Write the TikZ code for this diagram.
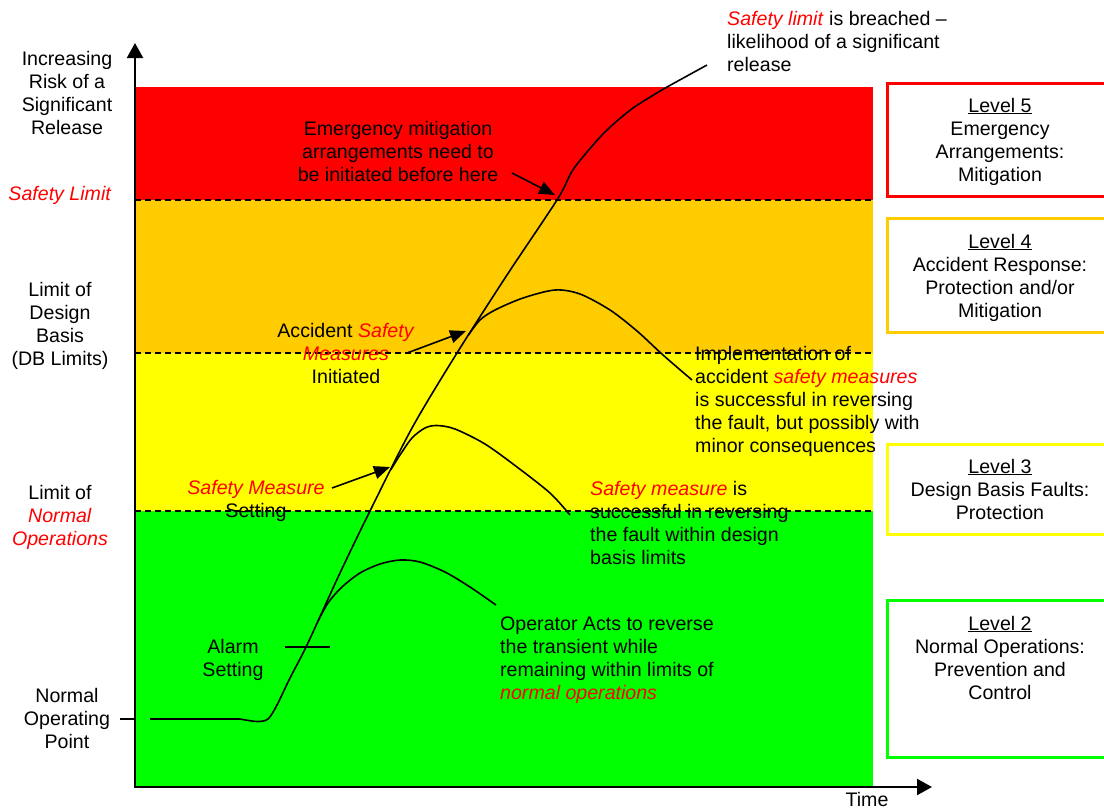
\documentclass[tikz,border=0pt]{standalone}
\usepackage{fontspec}
\setmainfont{Liberation Sans}
\usetikzlibrary{arrows.meta}
\definecolor{bandred}{HTML}{FF0000}
\definecolor{bandorange}{HTML}{FFCC00}
\definecolor{bandyellow}{HTML}{FFFF00}
\definecolor{bandgreen}{HTML}{00FF00}
\newcommand{\fsz}{\fontsize{19.6}{23}\selectfont}
\newcommand{\rd}[1]{\textcolor{bandred}{\textit{#1}}}
\begin{document}
\begin{tikzpicture}[x=1pt,y=-1pt,
  txt/.style={font=\fsz, inner sep=0pt, align=center, yshift=-2.5pt},
  ltxt/.style={font=\fsz, inner sep=0pt, align=left, anchor=west, yshift=-2.5pt},
  limitline/.style={dash pattern=on 6pt off 4pt, line width=1.3pt},
  curve/.style={line width=1.6pt, line join=round},
  pointer/.style={line width=1.6pt, -{Triangle[length=16pt,width=13pt]}},
  axis/.style={line width=2.2pt},
  levelbox/.style={line width=3pt, fill=white}]
\useasboundingbox (0,0) rectangle (1104,811);
% bands
\fill[bandred] (135,87) rectangle (873,200);
\fill[bandorange] (135,200) rectangle (873,353);
\fill[bandyellow] (135,353) rectangle (873,511);
\fill[bandgreen] (135,511) rectangle (873,787);
% limit lines
\draw[limitline] (135,200) -- (873,200);
\draw[limitline] (135,353) -- (873,353);
\draw[limitline] (135,511) -- (873,511);
% axes
\coordinate (O) at (135,787);
\coordinate (ytop) at (135,43);
\coordinate (xend) at (932,787);
\draw[axis, {Triangle[length=15pt,width=16pt]}-{Triangle[length=15pt,width=16pt]}] (ytop) -- (O) -- (xend);
% main transient
\draw[curve] (150,719) -- (240,719)
  plot[smooth, tension=0.5] coordinates {(240,719) (257,721.5) (268,719) (277,705) (290,678) (307,645) (340,573) (370,511) (412,428) (457,353) (507,275) (557,200) (571,173) (582,158) (605,132) (633,108) (667,87)}
  -- (707,65);
% branches
\draw[curve] plot[smooth, tension=0.5] coordinates {(317.5,622) (328,603) (342,587) (360,573) (380,564) (400,560) (420,562) (445,572) (470,587) (496,605)};
\draw[curve] plot[smooth, tension=0.5] coordinates {(390.7,470) (400,455) (412,438) (425,428) (437,425.5) (455,429) (485,444) (517,467) (550,493) (570,515)};
\draw[curve] plot[smooth, tension=0.5] coordinates {(468.5,335) (480,320) (495,310) (523,298) (555,290) (580,294) (610,310) (637,331) (663,355) (692,380)};
% alarm tick
\coordinate (alarmL) at (285,647);
\coordinate (alarmR) at (330,647);
\draw[line width=1.6pt] (alarmL) -- (alarmR);
% normal operating point tick
\coordinate (nopL) at (120,719);
\draw[line width=2.2pt] (nopL) -- (O |- nopL);
% pointers
\coordinate (emS) at (512,173); \coordinate (emT) at (555,195);
\coordinate (acS) at (407,353); \coordinate (acT) at (466,331);
\coordinate (smS) at (332,488); \coordinate (smT) at (390,467);
\draw[pointer] (emS) -- (emT);
\draw[pointer] (acS) -- (acT);
\draw[pointer] (smS) -- (smT);
% left labels
\node[txt] (risk) at (67,92.5) {\strut Increasing\\Risk of a\\Significant\\Release\strut};
\node[txt] (slimit) at (60,193) {\strut\rd{Safety Limit}};
\node[txt] (dblim) at (60,323.5) {\strut Limit of\\Design\\Basis\\(DB Limits)\strut};
\node[txt] (nolim) at (60,515.5) {\strut Limit of\\\rd{Normal}\\\rd{Operations}\strut};
\node[txt] (nop) at (67,718.5) {\strut Normal\\Operating\\Point\strut};
% annotations
\node[txt] (emerg) at (398,151) {\strut Emergency mitigation\\arrangements need to\\be initiated before here\strut};
\node[ltxt] (breach) at (727,41) {\strut\rd{Safety limit} is breached --\\likelihood of a significant\\release\strut};
\node[txt] (accid) at (346,353) {\strut Accident \rd{Safety}\\\rd{Measures}\\Initiated\strut};
\node[txt] (smset) at (256,499) {\strut\rd{Safety Measure}\\Setting\strut};
\node[txt] (alarm) at (233,657.5) {\strut Alarm\\Setting\strut};
\node[ltxt] (impl) at (695,399) {\strut Implementation of\\accident \rd{safety measures}\\is successful in reversing\\the fault, but possibly with\\minor consequences\strut};
\node[ltxt] (smsucc) at (590,522.5) {\strut\rd{Safety measure} is\\successful in reversing\\the fault within design\\basis limits\strut};
\node[ltxt] (oper) at (500,657.5) {\strut Operator Acts to reverse\\the transient while\\remaining within limits of\\\rd{normal operations}\strut};
\node[txt] (time) at (867,797) {Time};
% level boxes
\draw[levelbox, draw=bandred] (887,83) rectangle (1114,196);
\draw[levelbox, draw=bandorange] (887,218) rectangle (1114,332);
\draw[levelbox, draw=bandyellow] (887,444) rectangle (1114,534);
\draw[levelbox, draw=bandgreen] (887,600) rectangle (1114,757);
\node[txt] (lv5) at (1000,139.5) {\strut\underline{Level 5}\\Emergency\\Arrangements:\\Mitigation\strut};
\node[txt] (lv4) at (1000,275.5) {\strut\underline{Level 4}\\Accident Response:\\Protection and/or\\Mitigation\strut};
\node[txt] (lv3) at (1000,489) {\strut\underline{Level 3}\\Design Basis Faults:\\Protection\strut};
\node[txt] (lv2) at (1000,657.5) {\strut\underline{Level 2}\\Normal Operations:\\Prevention and\\Control\strut};
\end{tikzpicture}
\end{document}
